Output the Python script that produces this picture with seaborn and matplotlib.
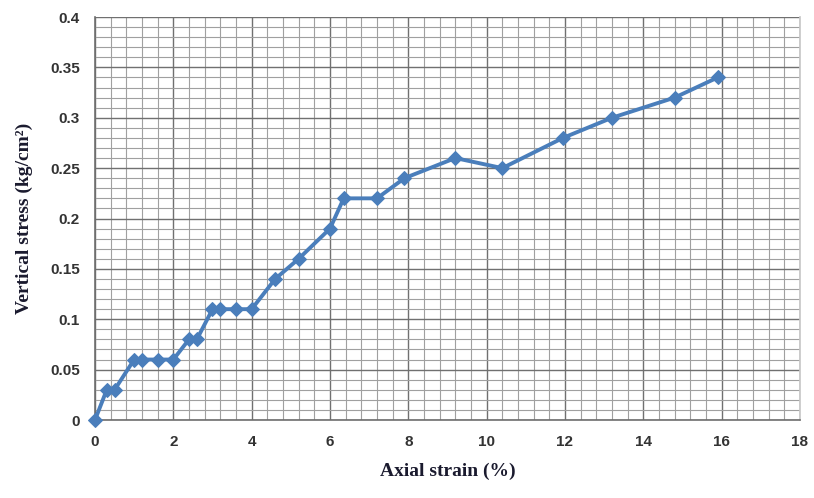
import numpy as np
import pandas as pd
import seaborn as sns
import matplotlib.pyplot as plt
from matplotlib.ticker import MultipleLocator

# values
strain = [0.0, 0.3, 0.5, 1.0, 1.2, 1.6, 2.0, 2.4, 2.6, 3.0, 3.2, 3.6, 4.0,
          4.6, 5.2, 6.0, 6.35, 7.2, 7.9, 9.2, 10.4, 11.95, 13.2, 14.8, 15.9]
stress = [0.0, 0.03, 0.03, 0.06, 0.06, 0.06, 0.06, 0.08, 0.08, 0.11, 0.11, 0.11, 0.11,
          0.14, 0.16, 0.19, 0.22, 0.22, 0.24, 0.26, 0.25, 0.28, 0.30, 0.32, 0.34]
xticks = [0, 2, 4, 6, 8, 10, 12, 14, 16, 18]
yticks = [0, 0.05, 0.1, 0.15, 0.2, 0.25, 0.3, 0.35, 0.4]
ylabels = ["0", "0.05", "0.1", "0.15", "0.2", "0.25", "0.3", "0.35", "0.4"]

sns.set_theme(style="white")
plt.rcParams['font.family'] = ['Liberation Sans', 'DejaVu Sans']

df = pd.DataFrame({"strain": strain, "stress": stress})

fig = plt.figure(figsize=(8.14, 4.98), dpi=100)
ax = fig.add_axes([95 / 814, 1 - 420 / 498, 705 / 814, 403 / 498])

ax.set_xlim(0, 18)
ax.set_ylim(0, 0.4)
ax.set_xticks(xticks)
ax.set_yticks(yticks)
ax.set_yticklabels(ylabels)
ax.xaxis.set_minor_locator(MultipleLocator(0.4))
ax.yaxis.set_minor_locator(MultipleLocator(0.01))
ax.grid(which="major", color="#707070", linewidth=1.0)
ax.grid(which="minor", color="#a0a0a0", linewidth=0.8)
ax.set_axisbelow(True)

sns.lineplot(data=df, x="strain", y="stress", ax=ax, color="#4a7ebb",
             linewidth=2.8, marker="D", markersize=7, markeredgecolor="#4a7ebb",
             sort=False, clip_on=False, zorder=3)

for s in ["left", "bottom"]:
    ax.spines[s].set_color("#6e6e6e")
    ax.spines[s].set_linewidth(1.2)
ax.spines["right"].set_color("#c8c8c8")
ax.spines["top"].set_visible(False)

ax.tick_params(axis="both", which="major", direction="out", length=5, width=1,
               color="#6e6e6e", labelsize=11, labelcolor="#333333", pad=6)
ax.tick_params(axis="both", which="minor", length=0)
for lab in ax.get_xticklabels() + ax.get_yticklabels():
    lab.set_fontweight("bold")

ax.set_xlabel("Axial strain (%)", fontsize=14, fontweight="bold",
              family="Liberation Serif", color="#1a1a2e", labelpad=10)
ax.set_ylabel("Vertical stress (kg/cm²)", fontsize=14, fontweight="bold",
              family="Liberation Serif", color="#1a1a2e", labelpad=12)

fig.savefig("out.png", dpi=100)
